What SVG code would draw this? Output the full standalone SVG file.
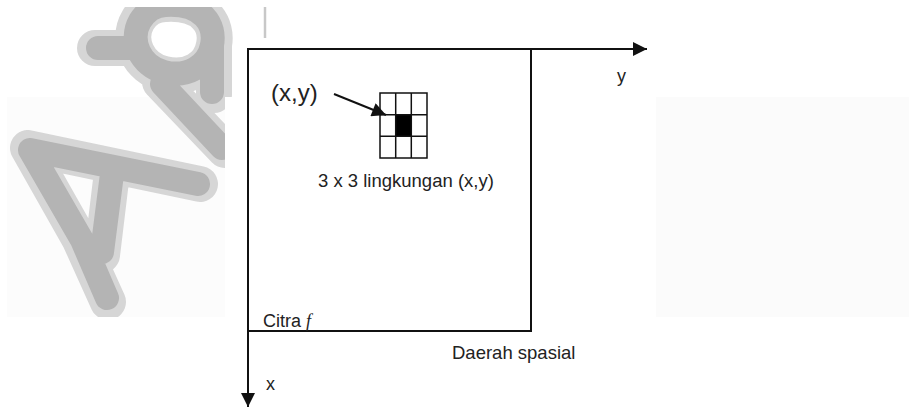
<svg xmlns="http://www.w3.org/2000/svg" width="909" height="407" viewBox="0 0 909 407">
<defs>
<style>
.ax{stroke:#111;stroke-width:2;fill:none}
.grid{stroke:#111;stroke-width:1.5;fill:none}
.t{font-family:"Liberation Sans",Arial,sans-serif;fill:#222}
.wm{fill:none;stroke-linecap:round;stroke-linejoin:round}
</style>
<marker id="ah" viewBox="0 0 10 10" refX="10" refY="5" markerWidth="15" markerHeight="14" markerUnits="userSpaceOnUse" orient="auto">
<path d="M0,0 L10,5 L0,10 z" fill="#111"/>
</marker>
<clipPath id="wclip">
<rect x="7" y="7" width="228" height="90"/>
<rect x="7" y="97" width="218" height="220"/>
</clipPath>
</defs>
<rect width="909" height="407" fill="#fff"/>
<rect x="7" y="97" width="218" height="220" fill="#fcfcfc"/>
<rect x="656" y="97" width="253" height="220" fill="#fbfbfb"/>
<g id="watermark" clip-path="url(#wclip)">
<g class="wm" stroke="#d6d6d6" stroke-width="36">
<path d="M95,48 L130,48 M166,4 C205,2 218,25 214,45 C210,68 188,80 164,74 C138,68 126,40 138,20 C145,8 155,4 166,4 M214,45 L214,95 M160,82 L225,150"/>
<path d="M28,148 L200,184 M28,148 L80,240 L108,302 M112,172 L102,255"/>
</g>
<g class="wm" stroke="#b4b4b4" stroke-width="24">
<path d="M98,48 L130,48 M166,5 C203,3 216,25 212,45 C208,66 187,78 164,72 C140,66 129,40 140,21 C147,10 156,5 166,5 M212,45 L212,92 M162,84 L222,148"/>
<path d="M30,150 L198,184 M30,150 L82,240 L107,298 M112,174 L102,252"/>
</g>
</g>
<line x1="265" y1="7" x2="265" y2="38" stroke="#c8c8c8" stroke-width="2.5"/>
<g id="image-frame">
<rect x="248" y="49" width="283" height="282" class="ax"/>
</g>
<g id="connectors">
<line x1="248" y1="49" x2="647" y2="49" class="ax" marker-end="url(#ah)"/>
<line x1="248" y1="49" x2="248" y2="407" class="ax" marker-end="url(#ah)"/>
<line x1="334" y1="94" x2="386" y2="115" stroke="#111" stroke-width="2" marker-end="url(#ah)"/>
</g>
<g id="neighborhood">
<rect x="396" y="115" width="15.5" height="21.5" fill="#000"/>
<rect x="380" y="93" width="47" height="65" class="grid"/>
<line x1="395.7" y1="93" x2="395.7" y2="158" class="grid"/>
<line x1="411.3" y1="93" x2="411.3" y2="158" class="grid"/>
<line x1="380" y1="114.7" x2="427" y2="114.7" class="grid"/>
<line x1="380" y1="136.3" x2="427" y2="136.3" class="grid"/>
</g>
<g id="labels">
<text class="t" x="271" y="101" font-size="24">(x,y)</text>
<text class="t" x="318" y="187" font-size="18.5">3 x 3 lingkungan (x,y)</text>
<text class="t" x="263" y="327" font-size="18">Citra <tspan font-family="'Liberation Serif',serif" font-style="italic">f</tspan></text>
<text class="t" x="452" y="359" font-size="18.5">Daerah spasial</text>
<text class="t" x="266" y="390" font-size="18">x</text>
<text class="t" x="617" y="82" font-size="18">y</text>
</g>
</svg>
